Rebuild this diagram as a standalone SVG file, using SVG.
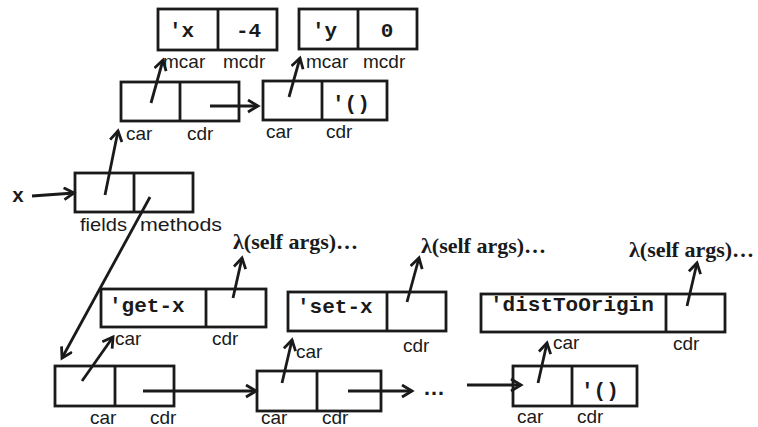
<svg xmlns="http://www.w3.org/2000/svg" width="758" height="427" viewBox="0 0 758 427">
<style>
.box{fill:#fff;stroke:#1a1a1a;stroke-width:2.8}
.div{stroke:#1a1a1a;stroke-width:2.8}
.lbl{font-family:"Liberation Sans",Arial,sans-serif;font-size:19px;fill:#1a1a1a}
.mono{font-family:"Liberation Mono","Courier New",monospace;font-size:21px;font-weight:bold;fill:#1a1a1a}
.lam{font-family:"Liberation Serif","Times New Roman",serif;font-size:22px;font-weight:bold;fill:#1a1a1a}
.arr{stroke:#1a1a1a;stroke-width:2.8;fill:none;marker-end:url(#ah)}
</style>
<defs>
<marker id="ah" markerUnits="userSpaceOnUse" markerWidth="16" markerHeight="16" refX="11" refY="7" orient="auto">
<path d="M1,1 L11,7 L1,13" fill="none" stroke="#1a1a1a" stroke-width="2.8" stroke-linejoin="miter"/>
</marker>
</defs>
<rect width="758" height="427" fill="#fff"/>

<g id="pairX">
<rect class="box" x="158" y="9" width="119" height="41"/>
<line class="div" x1="218" y1="9" x2="218" y2="50"/>
<text class="mono" x="169" y="37">'x</text>
<text class="mono" x="236" y="37">-4</text>
<text class="lbl" x="163" y="68">mcar</text>
<text class="lbl" x="223" y="68">mcdr</text>
</g>

<g id="pairY">
<rect class="box" x="299" y="9" width="118" height="40"/>
<line class="div" x1="358" y1="9" x2="358" y2="49"/>
<text class="mono" x="312" y="37">'y</text>
<text class="mono" x="387" y="37" text-anchor="middle">0</text>
<text class="lbl" x="306" y="68">mcar</text>
<text class="lbl" x="363" y="68">mcdr</text>
</g>

<g id="fields1">
<rect class="box" x="121" y="82" width="118" height="39"/>
<line class="div" x1="180" y1="82" x2="180" y2="121"/>
<text class="lbl" x="126" y="140">car</text>
<text class="lbl" x="187" y="140">cdr</text>
</g>

<g id="fields2">
<rect class="box" x="263" y="81" width="124" height="39"/>
<line class="div" x1="322" y1="81" x2="322" y2="120"/>
<text class="mono" x="332" y="110">'()</text>
<text class="lbl" x="266" y="138">car</text>
<text class="lbl" x="326" y="138">cdr</text>
</g>

<g id="varX">
<text class="mono" x="12" y="202" style="font-size:20px">x</text>
</g>

<g id="object">
<rect class="box" x="75" y="173" width="118" height="39"/>
<line class="div" x1="134" y1="173" x2="134" y2="212"/>
<text class="lbl" x="80" y="231" textLength="47" lengthAdjust="spacingAndGlyphs">fields</text>
<text class="lbl" x="140" y="231" textLength="82" lengthAdjust="spacingAndGlyphs">methods</text>
</g>

<g id="getx">
<rect class="box" x="101" y="289" width="165" height="38"/>
<line class="div" x1="206" y1="289" x2="206" y2="327"/>
<text class="mono" x="109" y="312">'get-x</text>
<text class="lbl" x="115" y="345">car</text>
<text class="lbl" x="212" y="345">cdr</text>
<text class="lam" x="233" y="249">λ(self args)…</text>
</g>

<g id="setx">
<rect class="box" x="288" y="292" width="158" height="39"/>
<line class="div" x1="387" y1="292" x2="387" y2="331"/>
<text class="mono" x="297" y="313">'set-x</text>
<text class="lbl" x="296" y="358">car</text>
<text class="lbl" x="403" y="352">cdr</text>
<text class="lam" x="421" y="253">λ(self args)…</text>
</g>

<g id="dist">
<rect class="box" x="481" y="294" width="244" height="38"/>
<line class="div" x1="666" y1="294" x2="666" y2="332"/>
<text class="mono" x="490" y="311">'distToOrigin</text>
<text class="lbl" x="553" y="349">car</text>
<text class="lbl" x="673" y="350">cdr</text>
<text class="lam" x="629" y="257">λ(self args)…</text>
</g>

<g id="meth1">
<rect class="box" x="55" y="366" width="119" height="40"/>
<line class="div" x1="115" y1="366" x2="115" y2="406"/>
<text class="lbl" x="90" y="424">car</text>
<text class="lbl" x="150" y="424">cdr</text>
</g>

<g id="meth2">
<rect class="box" x="257" y="371" width="124" height="40"/>
<line class="div" x1="317" y1="371" x2="317" y2="411"/>
<text class="lbl" x="261" y="424">car</text>
<text class="lbl" x="322" y="424">cdr</text>
</g>

<g id="ellipsis">
<text class="lbl" x="423" y="395" style="font-size:22px;font-weight:bold">…</text>
</g>

<g id="meth3">
<rect class="box" x="513" y="366" width="124" height="40"/>
<line class="div" x1="572" y1="366" x2="572" y2="406"/>
<text class="mono" x="581" y="397">'()</text>
<text class="lbl" x="517" y="423">car</text>
<text class="lbl" x="577" y="423">cdr</text>
</g>

<g id="connectors">
<line class="arr" x1="151" y1="103" x2="163" y2="60"/>
<line class="arr" x1="210" y1="106" x2="258" y2="106"/>
<line class="arr" x1="289" y1="97" x2="300" y2="58"/>
<line class="arr" x1="32" y1="196" x2="74" y2="193"/>
<line class="arr" x1="105" y1="195" x2="118" y2="131"/>
<line class="arr" x1="150" y1="197" x2="62" y2="358"/>
<line class="arr" x1="233" y1="298" x2="242" y2="258"/>
<line class="arr" x1="407" y1="302" x2="419" y2="258"/>
<line class="arr" x1="687" y1="306" x2="697" y2="263"/>
<line class="arr" x1="82" y1="381" x2="113" y2="337"/>
<line class="arr" x1="143" y1="391" x2="256" y2="391"/>
<line class="arr" x1="282" y1="383" x2="292" y2="340"/>
<line class="arr" x1="348" y1="391" x2="412" y2="391"/>
<line class="arr" x1="467" y1="385" x2="521" y2="385"/>
<line class="arr" x1="538" y1="383" x2="547" y2="343"/>
</g>
</svg>
